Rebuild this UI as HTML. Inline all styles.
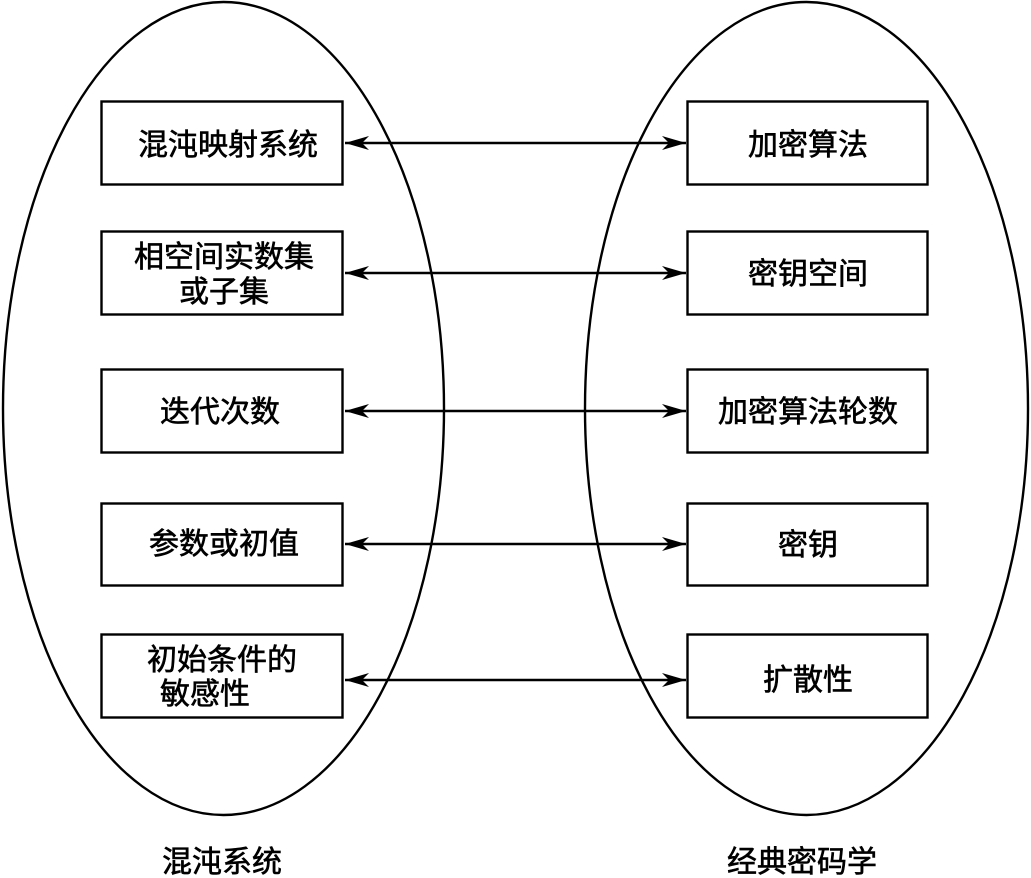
<!DOCTYPE html>
<html><head><meta charset="utf-8"><style>
html,body{margin:0;padding:0;background:#fff;}
svg{display:block;}
text{font-family:"Liberation Sans","Noto Sans CJK SC",sans-serif;font-size:30px;fill:#000;stroke:#000;stroke-width:0.6;text-anchor:middle;}
</style></head><body>
<svg width="1031" height="878" viewBox="0 0 1031 878" xmlns="http://www.w3.org/2000/svg">
<defs>
<marker id="a" viewBox="0 0 24 14" refX="24" refY="7" markerWidth="24" markerHeight="14" markerUnits="userSpaceOnUse" orient="auto-start-reverse">
<path d="M0,0 L24,7 L0,14 L7,7 Z" fill="#000"/>
</marker>
</defs>
<g fill="none" stroke="#000" stroke-width="2.4">
<ellipse cx="223.5" cy="408.5" rx="220.5" ry="406.5"/>
<ellipse cx="806.5" cy="408.5" rx="221.5" ry="406.5"/>
<rect x="101.5" y="101.5" width="241" height="83"/>
<rect x="101.5" y="231.5" width="241" height="83"/>
<rect x="101.5" y="369.5" width="241" height="83"/>
<rect x="101.5" y="503.5" width="241" height="82"/>
<rect x="101.5" y="634.5" width="241" height="83"/>
<rect x="687.5" y="101.5" width="240" height="83"/>
<rect x="687.5" y="231.5" width="240" height="83"/>
<rect x="687.5" y="369.5" width="240" height="83"/>
<rect x="687.5" y="503.5" width="240" height="82"/>
<rect x="687.5" y="634.5" width="240" height="83"/>
<g marker-start="url(#a)" marker-end="url(#a)">
<line x1="345" y1="143" x2="686" y2="143"/>
<line x1="345" y1="273" x2="686" y2="273"/>
<line x1="345" y1="411" x2="686" y2="411"/>
<line x1="345" y1="544" x2="686" y2="544"/>
<line x1="345" y1="680" x2="686" y2="680"/>
</g>
</g>
<text x="228" y="155">混沌映射系统</text>
<text x="224" y="267">相空间实数集</text>
<text x="224" y="302">或子集</text>
<text x="220" y="422">迭代次数</text>
<text x="224" y="554">参数或初值</text>
<text x="222" y="670">初始条件的</text>
<text x="205" y="704">敏感性</text>
<text x="808" y="155">加密算法</text>
<text x="808" y="284">密钥空间</text>
<text x="808" y="422">加密算法轮数</text>
<text x="808" y="555">密钥</text>
<text x="808" y="690">扩散性</text>
<text x="222" y="872">混沌系统</text>
<text x="802" y="872">经典密码学</text>
</svg>
</body></html>
